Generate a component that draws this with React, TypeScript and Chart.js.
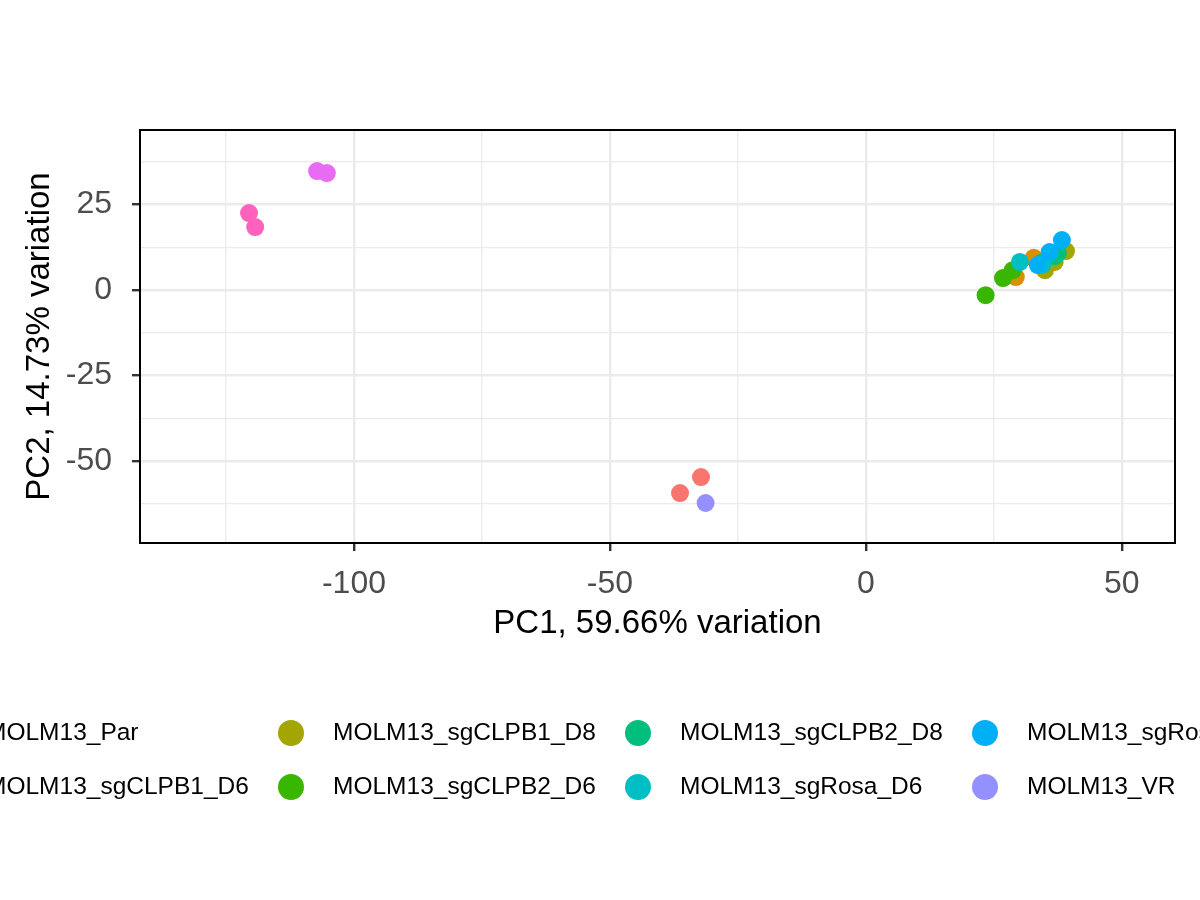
import React, { useEffect, useRef } from "react";
import { Chart, registerables } from "chart.js";
Chart.register(...registerables);

const groups = [
  "MOLM13_Par", "MOLM13_sgCLPB1_D6", "MOLM13_sgCLPB1_D8", "MOLM13_sgCLPB2_D6",
  "MOLM13_sgCLPB2_D8", "MOLM13_sgRosa_D6", "MOLM13_sgRosa_D8", "MOLM13_VR",
  "MV411_Par", "MV411_VR",
];
const colors = ["#F8766D", "#D89000", "#A3A500", "#39B600", "#00BF7D", "#00BFC4", "#00B0F6", "#9590FF", "#E76BF3", "#FF62BC"];
const pc1: number[][] = [
  [-36.3, -32.2],
  [28.9, 32.8, 29.3],
  [39.1, 35.0, 36.9],
  [23.4, 26.8, 28.7],
  [34.2, 36.9, 37.5],
  [30.1, 34.5],
  [38.3, 35.9, 33.6],
  [-31.3],
  [-107.2, -105.3],
  [-120.5, -119.3],
];
const pc2: number[][] = [
  [-59.4, -54.7],
  [5.0, 9.4, 3.8],
  [11.4, 5.8, 8.2],
  [-1.5, 3.5, 5.8],
  [7.9, 9.9, 10.8],
  [8.2, 7.5],
  [14.6, 11.1, 7.3],
  [-62.3],
  [34.8, 34.2],
  [22.5, 18.4],
];
const xTitle = "PC1, 59.66% variation";
const yTitle = "PC2, 14.73% variation";

const FONT = "'Liberation Sans', Arial, sans-serif";

export default function App() {
  const ref = useRef<HTMLCanvasElement>(null);
  useEffect(() => {
    document.body.style.margin = "0";
    const overlay = {
      id: "overlay",
      afterDraw(chart: any) {
        const { ctx, chartArea: a } = chart;
        ctx.save();
        ctx.strokeStyle = "#000";
        ctx.lineWidth = 2;
        ctx.strokeRect(a.left, a.top, a.right - a.left, a.bottom - a.top);
        ctx.fillStyle = "#000";
        ctx.font = `33px ${FONT}`;
        ctx.textAlign = "center";
        ctx.textBaseline = "middle";
        ctx.fillText(xTitle, (a.left + a.right) / 2, 624);
        ctx.translate(40, (a.top + a.bottom) / 2);
        ctx.rotate(-Math.PI / 2);
        ctx.fillText(yTitle, 0, 0);
        ctx.restore();
        ctx.save();
        ctx.font = `24.5px ${FONT}`;
        ctx.textAlign = "left";
        ctx.textBaseline = "middle";
        groups.forEach((g, i) => {
          const col = Math.floor(i / 2), row = i % 2;
          const cx = -56 + col * 347, cy = 733 + row * 54;
          ctx.fillStyle = colors[i];
          ctx.beginPath();
          ctx.arc(cx, cy, 13, 0, Math.PI * 2);
          ctx.fill();
          ctx.fillStyle = "#000";
          ctx.fillText(g, cx + 42, cy);
        });
        ctx.restore();
      },
    };
    const chart = new Chart(ref.current!, {
      type: "scatter",
      data: {
        datasets: groups.map((g, i) => ({
          label: g,
          data: pc1[i].map((x, j) => ({ x, y: pc2[i][j] })),
          backgroundColor: colors[i],
          borderWidth: 0,
          pointRadius: 9,
          order: groups.length - i,
        })),
      },
      options: {
        responsive: false,
        animation: false,
        layout: { padding: { top: 130, right: 25, left: 0, bottom: 0 } },
        plugins: { legend: { display: false }, tooltip: { enabled: false } },
        scales: {
          x: {
            type: "linear",
            min: -141.8,
            max: 60.4,
            afterFit: (s: any) => { s.height = 357; },
            afterBuildTicks: (s: any) => {
              const t = [];
              for (let v = -125; v <= 50; v += 25) t.push({ value: v });
              s.ticks = t;
            },
            grid: {
              color: "#ebebeb",
              lineWidth: (c: any) => (c.tick && c.tick.value % 50 === 0 ? 2.4 : 1.3),
              drawTicks: true,
              tickLength: 8,
              tickColor: (c: any) => (c.tick && c.tick.value % 50 === 0 ? "#333" : "rgba(0,0,0,0)"),
            },
            border: { display: false },
            ticks: {
              autoSkip: false,
              maxRotation: 0,
              color: "#4d4d4d",
              font: { size: 32, family: FONT },
              padding: 14,
              callback: (v: any) => (v % 50 === 0 ? String(v) : ""),
            },
          },
          y: {
            type: "linear",
            min: -74,
            max: 46.8,
            afterFit: (s: any) => { s.width = 140; },
            afterBuildTicks: (s: any) => {
              const t = [];
              for (let v = -62.5; v <= 37.5; v += 12.5) t.push({ value: v });
              s.ticks = t;
            },
            grid: {
              color: "#ebebeb",
              lineWidth: (c: any) => (c.tick && c.tick.value % 25 === 0 ? 2.4 : 1.3),
              tickLength: 8,
              tickColor: (c: any) => (c.tick && c.tick.value % 25 === 0 ? "#333" : "rgba(0,0,0,0)"),
            },
            border: { display: false },
            ticks: {
              autoSkip: false,
              color: "#4d4d4d",
              font: { size: 32, family: FONT },
              padding: 20,
              callback: (v: any) => (v % 25 === 0 ? String(v) : ""),
            },
          },
        },
      },
      plugins: [overlay],
    });
    return () => chart.destroy();
  }, []);
  return <canvas ref={ref} width={1200} height={900} style={{ display: "block", width: 1200, height: 900 }} />;
}
